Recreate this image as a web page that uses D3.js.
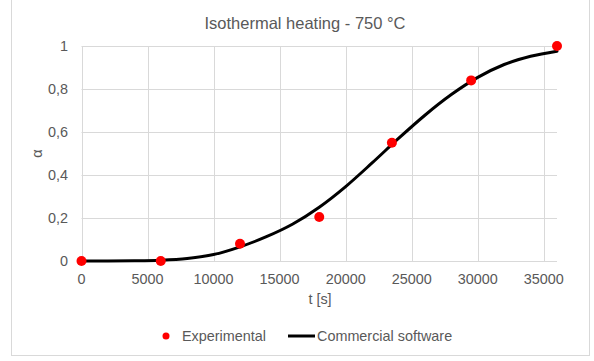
<!DOCTYPE html>
<html>
<head>
<meta charset="utf-8">
<script src="https://cdn.jsdelivr.net/npm/d3@7"></script>
<style>
  body { margin: 0; background: #fff; }
  text { font-family: "Liberation Sans", Arial, sans-serif; fill: #595959; }
</style>
</head>
<body>
<svg id="chart" width="594" height="361"></svg>
<script>
// experimental points
var expTime = [0, 6000, 12000, 18000, 23500, 29500, 36000];
var expAlpha = [0, 0, 0.08, 0.205, 0.55, 0.84, 1.0];

// commercial software curve
var simTime = [0, 2000, 4000, 6000, 8000, 10000, 12000, 14000, 16000, 18000, 20000,
               22000, 24000, 26000, 28000, 30000, 32000, 34000, 36000];
var simAlpha = [0, 0, 0.001, 0.004, 0.012, 0.030, 0.066, 0.113, 0.172, 0.25, 0.346,
                0.456, 0.570, 0.678, 0.774, 0.854, 0.914, 0.952, 0.976];

var xTicks = [0, 5000, 10000, 15000, 20000, 25000, 30000, 35000];
var yTicks = [0, 0.2, 0.4, 0.6, 0.8, 1];

var svg = d3.select("#chart");

var x = d3.scaleLinear().domain([0, 36000]).range([81.5, 557]);
var y = d3.scaleLinear().domain([0, 1]).range([261, 46]);

// outer border
svg.append("rect")
  .attr("x", 11.5).attr("y", -0.5)
  .attr("width", 578).attr("height", 356)
  .attr("fill", "#fff").attr("stroke", "#d9d9d9");

// title
svg.append("text")
  .attr("x", 305).attr("y", 29)
  .attr("text-anchor", "middle")
  .attr("font-size", 16.5)
  .text("Isothermal heating - 750 °C");

// horizontal grid
svg.append("g").selectAll("line").data(yTicks).join("line")
  .attr("x1", x(0)).attr("x2", x(36000))
  .attr("y1", d => Math.round(y(d)) + 0.5).attr("y2", d => Math.round(y(d)) + 0.5)
  .attr("stroke", "#d9d9d9");

// vertical grid
svg.append("g").selectAll("line").data(xTicks).join("line")
  .attr("x1", d => Math.round(x(d)) + 0.5).attr("x2", d => Math.round(x(d)) + 0.5)
  .attr("y1", y(1)).attr("y2", y(0))
  .attr("stroke", "#d9d9d9");

// y tick labels
var fmt = d3.format(".1f");
svg.append("g").selectAll("text").data(yTicks).join("text")
  .attr("x", 68).attr("y", d => y(d))
  .attr("dy", "0.35em")
  .attr("text-anchor", "end")
  .attr("font-size", 14.4)
  .text(d => d === 0 ? "0" : d === 1 ? "1" : fmt(d).replace(".", ","));

// x tick labels
svg.append("g").selectAll("text").data(xTicks).join("text")
  .attr("x", d => x(d)).attr("y", 284)
  .attr("text-anchor", "middle")
  .attr("font-size", 14.4)
  .text(d => d);

// axis titles
svg.append("text")
  .attr("x", 320).attr("y", 304)
  .attr("text-anchor", "middle")
  .attr("font-size", 14.4)
  .text("t [s]");

svg.append("text")
  .attr("transform", "translate(42," + (y(0.5)) + ") rotate(-90)")
  .attr("text-anchor", "middle")
  .attr("font-size", 14.4)
  .text("α");

// simulated curve
var line = d3.line()
  .x((d, i) => x(simTime[i]))
  .y(d => y(d))
  .curve(d3.curveMonotoneX);

svg.append("path")
  .datum(simAlpha)
  .attr("d", line)
  .attr("fill", "none")
  .attr("stroke", "#000")
  .attr("stroke-width", 3)
  .attr("stroke-linecap", "round");

// experimental markers
svg.append("g").selectAll("circle").data(expAlpha).join("circle")
  .attr("cx", (d, i) => x(expTime[i]))
  .attr("cy", d => y(d))
  .attr("r", 5)
  .attr("fill", "#ff0000");

// legend
var legend = svg.append("g").attr("transform", "translate(0,336)");
legend.append("circle").attr("cx", 166).attr("cy", 0).attr("r", 3.5).attr("fill", "#ff0000");
legend.append("text").attr("x", 182).attr("y", 0).attr("dy", "0.35em")
  .attr("font-size", 14.4).text("Experimental");
legend.append("line").attr("x1", 288).attr("x2", 315).attr("y1", 0).attr("y2", 0)
  .attr("stroke", "#000").attr("stroke-width", 3);
legend.append("text").attr("x", 317).attr("y", 0).attr("dy", "0.35em")
  .attr("font-size", 14.4).text("Commercial software");
</script>
</body>
</html>
